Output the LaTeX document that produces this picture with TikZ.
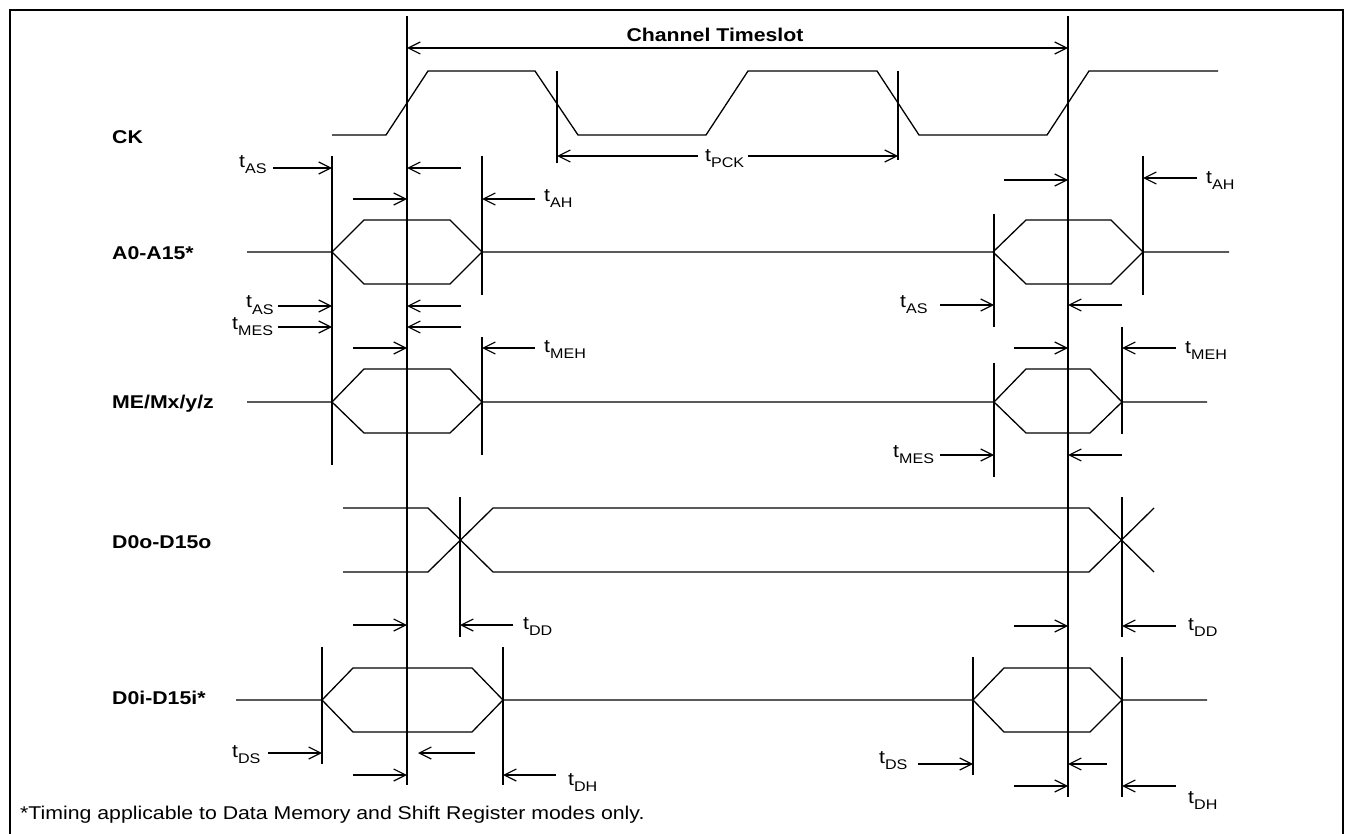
\documentclass[tikz,border=0pt]{standalone}
\usepackage{fontspec}
\setmainfont{Liberation Sans}[FakeStretch=1.15]
\usetikzlibrary{arrows.meta}
\newcommand{\tsub}[1]{t\raisebox{-6pt}{\fontsize{14}{14}\selectfont #1}}

\begin{document}
\begin{tikzpicture}[x=1pt, y=-1pt,
    font=\fontsize{18.5}{22}\selectfont,
    >={Straight Barb[length=12pt, width=12pt]},
    frame/.style={line width=1.3pt},
    slotline/.style={line width=2.2pt},
    wave/.style={line width=1.3pt},
    guide/.style={line width=1.2pt},
    dim/.style={line width=1.2pt, ->},
    sname/.style={inner sep=0pt, anchor=base west,
      font=\fontsize{18.5}{22}\selectfont\bfseries},
    tlabel/.style={inner sep=0pt, anchor=base west}]
  \useasboundingbox (0, 0) rectangle (1346, 834);

  % Frame
  \draw [frame] (10, 834) -- (10, 10) -- (1343, 10) -- (1343, 834);

  % Channel timeslot
  \draw [slotline] (407, 16) -- (407, 785);
  \draw [slotline] (1068, 16) -- (1068, 797);
  \draw [dim, <->] (407, 48) -- (1068, 48);
  \node [sname, anchor=base] (slot) at (715, 42) {Channel Timeslot};

  % CK
  \node [sname] (ck) at (112, 144) {CK};
  \draw [wave] (332, 135) -- (386, 135) -- (428, 71) -- (535, 71)
        -- (578, 135) -- (706, 135) -- (748, 71) -- (877, 71)
        -- (919, 135) -- (1047, 135) -- (1089, 71) -- (1218, 71);
  \draw [guide] (557, 71) -- (557, 163);
  \draw [guide] (898, 71) -- (898, 160);
  \draw [dim] (698, 156) -- (557, 156);
  \draw [dim] (748, 156) -- (898, 156);
  \node [tlabel] (tpck) at (705, 162) {\tsub{PCK}};

  % A0-A15
  \node [sname] (addr) at (112, 260) {A0-A15*};
  \draw [wave] (247, 252) -- (332, 252) -- (364, 220) -- (450, 220)
        -- (482, 252) -- (993, 252) -- (1026, 220) -- (1111, 220)
        -- (1143, 252) -- (1229, 252);
  \draw [wave] (332, 252) -- (364, 284) -- (450, 284) -- (482, 252);
  \draw [wave] (993, 252) -- (1026, 284) -- (1111, 284) -- (1143, 252);
  \draw [guide] (332, 156) -- (332, 465);
  \draw [guide] (482, 156) -- (482, 295);
  \draw [guide] (994, 214) -- (994, 327);
  \draw [guide] (1143, 156) -- (1143, 295);
  \node [tlabel] (tas1) at (239, 168) {\tsub{AS}};
  \draw [dim] (273, 168) -- (332, 168);
  \draw [dim] (461, 168) -- (407, 168);
  \draw [dim] (353, 199) -- (407, 199);
  \draw [dim] (535, 199) -- (482, 199);
  \node [tlabel] (tah1) at (544, 202) {\tsub{AH}};
  \draw [dim] (1004, 180) -- (1068, 180);
  \draw [dim] (1197, 178) -- (1143, 178);
  \node [tlabel] (tah2) at (1206, 184) {\tsub{AH}};
  \node [tlabel] (tas2) at (900, 307) {\tsub{AS}};
  \draw [dim] (940, 305) -- (994, 305);
  \draw [dim] (1122, 305) -- (1068, 305);

  % ME/Mx/y/z
  \node [sname] (me) at (112, 408) {ME/Mx/y/z};
  \draw [wave] (247, 402) -- (332, 402) -- (364, 369) -- (450, 369)
        -- (482, 402) -- (994, 402) -- (1026, 369) -- (1090, 369)
        -- (1122, 402) -- (1207, 402);
  \draw [wave] (332, 402) -- (364, 433) -- (450, 433) -- (482, 402);
  \draw [wave] (994, 402) -- (1026, 433) -- (1090, 433) -- (1122, 402);
  \draw [guide] (482, 337) -- (482, 455);
  \draw [guide] (994, 363) -- (994, 477);
  \draw [guide] (1122, 327) -- (1122, 434);
  \node [tlabel] (tas3) at (246, 308) {\tsub{AS}};
  \draw [dim] (278, 306) -- (332, 306);
  \draw [dim] (461, 306) -- (407, 306);
  \node [tlabel] (tmes1) at (232, 329) {\tsub{MES}};
  \draw [dim] (278, 327) -- (332, 327);
  \draw [dim] (461, 327) -- (407, 327);
  \draw [dim] (353, 348) -- (407, 348);
  \draw [dim] (535, 348) -- (482, 348);
  \node [tlabel] (tmeh1) at (544, 352) {\tsub{MEH}};
  \draw [dim] (1014, 348) -- (1068, 348);
  \draw [dim] (1176, 348) -- (1122, 348);
  \node [tlabel] (tmeh2) at (1185, 353) {\tsub{MEH}};
  \node [tlabel] (tmes2) at (893, 457) {\tsub{MES}};
  \draw [dim] (940, 455) -- (994, 455);
  \draw [dim] (1122, 455) -- (1068, 455);

  % D0o-D15o
  \node [sname] (dout) at (112, 548) {D0o-D15o};
  \draw [wave] (343, 508) -- (428, 508) -- (493, 572) -- (1089, 572) -- (1154, 508);
  \draw [wave] (343, 572) -- (428, 572) -- (493, 508) -- (1089, 508) -- (1154, 572);
  \draw [guide] (460, 497) -- (460, 637);
  \draw [guide] (1122, 497) -- (1122, 637);
  \draw [dim] (353, 625) -- (407, 625);
  \draw [dim] (513, 625) -- (460, 625);
  \node [tlabel] (tdd1) at (523, 629) {\tsub{DD}};
  \draw [dim] (1014, 626) -- (1068, 626);
  \draw [dim] (1176, 626) -- (1122, 626);
  \node [tlabel] (tdd2) at (1188, 630) {\tsub{DD}};

  % D0i-D15i
  \node [sname] (din) at (112, 704) {D0i-D15i*};
  \draw [wave] (236, 700) -- (322, 700) -- (353, 668) -- (472, 668)
        -- (503, 700) -- (973, 700) -- (1004, 668) -- (1090, 668)
        -- (1122, 700) -- (1207, 700);
  \draw [wave] (322, 700) -- (353, 732) -- (472, 732) -- (503, 700);
  \draw [wave] (973, 700) -- (1004, 732) -- (1090, 732) -- (1122, 700);
  \draw [guide] (322, 647) -- (322, 764);
  \draw [guide] (503, 647) -- (503, 785);
  \draw [guide] (973, 657) -- (973, 775);
  \draw [guide] (1122, 657) -- (1122, 797);
  \node [tlabel] (tds1) at (232, 757) {\tsub{DS}};
  \draw [dim] (268, 753) -- (322, 753);
  \draw [dim] (475, 753) -- (418, 753);
  \draw [dim] (353, 775) -- (407, 775);
  \draw [dim] (556, 775) -- (503, 775);
  \node [tlabel] (tdh1) at (568, 785) {\tsub{DH}};
  \node [tlabel] (tds2) at (879, 763) {\tsub{DS}};
  \draw [dim] (918, 764) -- (973, 764);
  \draw [dim] (1107, 764) -- (1068, 764);
  \draw [dim] (1014, 786) -- (1068, 786);
  \draw [dim] (1176, 786) -- (1122, 786);
  \node [tlabel] (tdh2) at (1188, 803) {\tsub{DH}};

  % Note
  \node [tlabel] (note) at (20, 819)
        {*Timing applicable to Data Memory and Shift Register modes only.};
\end{tikzpicture}
\end{document}
